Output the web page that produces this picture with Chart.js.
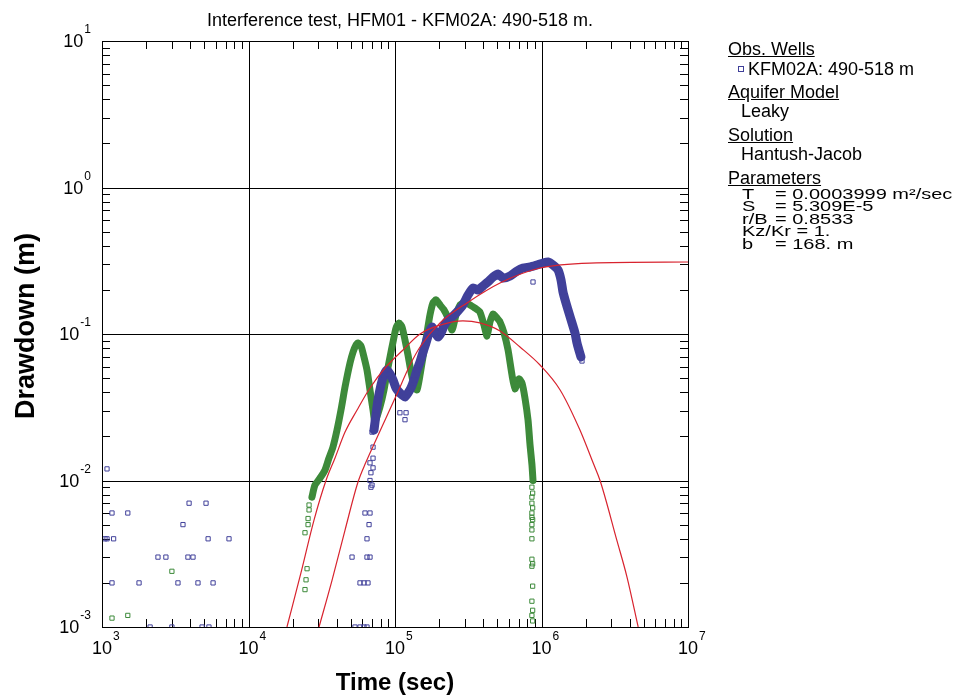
<!DOCTYPE html>
<html>
<head>
<meta charset="utf-8">
<script src="https://cdn.jsdelivr.net/npm/chart.js@4.4.1/dist/chart.umd.min.js"></script>
<style>
  body { margin: 0; background: #fff; }
  #wrap { position: relative; width: 957px; height: 698px; }
  #legend { position: absolute; left: 0; top: 0; font-family: "Liberation Sans", Arial, sans-serif; font-size: 18px; color: #000; }
  #legend div { position: absolute; white-space: nowrap; line-height: 18px; }
  #legend .h { text-decoration: underline; }
  #legend .mk { width: 4px; height: 4px; border: 1px solid #3f3f99; }
  #legend .p { font-size: 20px; line-height: 20px; transform: scaleY(0.75); transform-origin: 0 17px; }
</style>
</head>
<body>
<div id="wrap">
  <canvas id="chart"></canvas>
  <div id="legend">
    <div class="h" style="left:728px; top:40px">Obs. Wells</div>
    <div class="mk" style="left:738px; top:66px"></div>
    <div style="left:748px; top:60px">KFM02A: 490-518 m</div>
    <div class="h" style="left:728px; top:83px">Aquifer Model</div>
    <div style="left:741px; top:102px">Leaky</div>
    <div class="h" style="left:728px; top:126px">Solution</div>
    <div style="left:741px; top:145px">Hantush-Jacob</div>
    <div class="h" style="left:728px; top:169px">Parameters</div>
    <div class="p" style="left:742px; top:182px">T</div>
    <div class="p" style="left:775px; top:182px">= 0.0003999 m²/sec</div>
    <div class="p" style="left:742px; top:194px">S</div>
    <div class="p" style="left:775px; top:194px">= 5.309E-5</div>
    <div class="p" style="left:742px; top:207px">r/B</div>
    <div class="p" style="left:775px; top:207px">= 0.8533</div>
    <div class="p" style="left:742px; top:219px">Kz/Kr = 1.</div>
    <div class="p" style="left:742px; top:232px">b</div>
    <div class="p" style="left:775px; top:232px">= 168. m</div>
  </div>
</div>
<script>
// axis decades and their exponent labels
const timeDecades = [1e3, 1e4, 1e5, 1e6, 1e7];
const timeExp = ['3', '4', '5', '6', '7'];
const drawdownDecades = [1e-3, 1e-2, 1e-1, 1e0, 1e1];
const drawdownExp = ['-3', '-2', '-1', '0', '1'];

// [time (sec), drawdown (m)]
const fitRising = [[1.83e4, 0.001], [2.28e4, 0.00234], [2.80e4, 0.00537], [3.38e4, 0.0100], [3.89e4, 0.0142],
  [4.56e4, 0.0214], [5.51e4, 0.0303], [6.75e4, 0.0428], [8.55e4, 0.0586], [1.134e5, 0.0778], [1.482e5, 0.100],
  [2.028e5, 0.115], [2.91e5, 0.123], [3.8e5, 0.119], [5.21e5, 0.1048], [7.13e5, 0.0815], [9.77e5, 0.0614],
  [1.34e6, 0.0415], [1.83e6, 0.0221], [2.25e6, 0.0132], [2.51e6, 0.0100], [3.27e6, 0.0039], [3.83e6, 0.0022],
  [4.57e6, 0.001]];

const fitKfm = [[3.03e4, 0.001], [3.72e4, 0.00209], [4.56e4, 0.00459], [5.59e4, 0.00977], [6.34e4, 0.01337],
  [7.41e4, 0.0189], [8.68e4, 0.0267], [1.016e5, 0.0377], [1.266e5, 0.0614], [1.482e5, 0.0815], [2.028e5, 0.119],
  [3.1e5, 0.163], [5.21e5, 0.223], [9.77e5, 0.282], [2.14e6, 0.305], [1e7, 0.31]];

const kfmBand = [[7.19e4, 0.0221], [7.41e4, 0.028], [7.65e4, 0.0354], [8.02e4, 0.0449], [8.41e4, 0.0525],
  [8.81e4, 0.0568], [9.25e4, 0.0533], [9.69e4, 0.0486], [1.016e5, 0.0428], [1.065e5, 0.0402], [1.116e5, 0.0384],
  [1.17e5, 0.0372], [1.227e5, 0.0396], [1.286e5, 0.0428], [1.348e5, 0.0486], [1.413e5, 0.0568], [1.482e5, 0.0644],
  [1.553e5, 0.0753], [1.628e5, 0.0868], [1.706e5, 0.1016], [1.789e5, 0.1116], [1.875e5, 0.1032], [1.966e5, 0.0955],
  [2.06e5, 0.1016], [2.159e5, 0.1134], [2.30e5, 0.1246], [2.49e5, 0.1327], [2.69e5, 0.1435], [2.91e5, 0.158],
  [3.15e5, 0.1845], [3.41e5, 0.206], [3.69e5, 0.1995], [3.99e5, 0.213], [4.31e5, 0.2265], [4.67e5, 0.245],
  [5.05e5, 0.257], [5.46e5, 0.241], [6.10e5, 0.249], [6.80e5, 0.269], [7.48e5, 0.282], [8.35e5, 0.2867],
  [9.31e5, 0.296], [1.024e6, 0.305], [1.108e6, 0.310], [1.198e6, 0.296], [1.296e6, 0.2735], [1.359e6, 0.234],
  [1.402e6, 0.1935], [1.469e6, 0.1628], [1.54e6, 0.139], [1.615e6, 0.119], [1.693e6, 0.1016], [1.747e6, 0.0868],
  [1.80e6, 0.0778], [1.86e6, 0.0697]];

const kfmScatter = [[1082, 0.012], [1170, 0.006], [1500, 0.006], [1048, 0.004], [1082, 0.004], [1200, 0.004],
  [1170, 0.002], [1790, 0.002], [2410, 0.003], [2730, 0.003], [3570, 0.005], [3930, 0.007], [5130, 0.007],
  [3860, 0.003], [4180, 0.003], [3300, 0.002], [4520, 0.002], [5300, 0.004], [5730, 0.002], [7360, 0.004],
  [2130, 0.001], [3000, 0.001], [4820, 0.001], [5370, 0.001],
  [6.97e4, 0.0214], [7.08e4, 0.0169], [7.08e4, 0.0142], [6.75e4, 0.0132], [7.08e4, 0.0122], [6.85e4, 0.0113],
  [6.97e4, 0.0093], [6.75e4, 0.010], [6.85e4, 0.009], [6.24e4, 0.006], [6.75e4, 0.006], [6.65e4, 0.005],
  [6.44e4, 0.004], [5.09e4, 0.003], [6.44e4, 0.003], [6.75e4, 0.003], [5.77e4, 0.002], [6.14e4, 0.002],
  [6.54e4, 0.002], [5.33e4, 0.001], [5.77e4, 0.001], [6.14e4, 0.001], [6.44e4, 0.001],
  [1.08e5, 0.029], [1.17e5, 0.026], [1.19e5, 0.029], [8.75e5, 0.2265], [1.89e6, 0.0654]];

const otherBand = [[2.71e4, 0.0077], [2.84e4, 0.0093], [3.08e4, 0.0104], [3.33e4, 0.0118], [3.54e4, 0.0142],
  [3.77e4, 0.0169], [4.02e4, 0.0221], [4.28e4, 0.0303], [4.56e4, 0.0435], [4.93e4, 0.0634], [5.17e4, 0.0753],
  [5.42e4, 0.0841], [5.59e4, 0.0868], [5.86e4, 0.0828], [6.05e4, 0.0741], [6.44e4, 0.0568], [6.75e4, 0.0415],
  [7.08e4, 0.0303], [7.30e4, 0.0251], [7.90e4, 0.0318], [8.41e4, 0.0415], [8.81e4, 0.0542], [9.25e4, 0.0697],
  [9.69e4, 0.0881], [1.016e5, 0.110], [1.065e5, 0.119], [1.116e5, 0.1116], [1.17e5, 0.091], [1.227e5, 0.0719],
  [1.286e5, 0.0551], [1.348e5, 0.0449], [1.413e5, 0.0415], [1.482e5, 0.0525], [1.553e5, 0.0697], [1.653e5, 0.1016],
  [1.733e5, 0.135], [1.817e5, 0.163], [1.905e5, 0.171], [2.028e5, 0.158], [2.159e5, 0.146], [2.30e5, 0.1286],
  [2.45e5, 0.1065], [2.61e5, 0.135], [2.78e5, 0.158], [3.0e5, 0.165], [3.25e5, 0.158], [3.52e5, 0.150],
  [3.80e5, 0.141], [4.05e5, 0.115], [4.25e5, 0.0969], [4.45e5, 0.121], [4.67e5, 0.137], [4.97e5, 0.1286],
  [5.21e5, 0.121], [5.55e5, 0.1016], [5.91e5, 0.0778], [6.29e5, 0.0525], [6.59e5, 0.0422], [7.02e5, 0.0493],
  [7.36e5, 0.0463], [7.71e5, 0.0366], [8.09e5, 0.0259], [8.35e5, 0.0175], [8.61e5, 0.0128], [8.75e5, 0.0100]];

const otherScatter = [[2.43e4, 0.0044], [2.55e4, 0.0050], [2.55e4, 0.0055], [2.59e4, 0.0063], [2.59e4, 0.0068],
  [2.51e4, 0.0025], [2.47e4, 0.0021], [2.43e4, 0.0018], [1170, 0.00115], [1500, 0.0012], [3000, 0.0024],
  [8.6e5, 0.009], [8.7e5, 0.0082], [8.6e5, 0.0077], [8.6e5, 0.007], [8.7e5, 0.0065], [8.6e5, 0.006],
  [8.6e5, 0.0056], [8.7e5, 0.0054], [8.6e5, 0.005], [8.6e5, 0.0046], [8.6e5, 0.004], [8.6e5, 0.0029],
  [8.7e5, 0.0027], [8.6e5, 0.0026], [8.7e5, 0.0019], [8.6e5, 0.0015], [8.7e5, 0.0013], [8.6e5, 0.0012],
  [8.7e5, 0.0011]];

const RED = '#d8232e';
const BLUE = '#40409a';
const GREEN = '#3d8a3a';
const FONT = '"Liberation Sans", Arial, sans-serif';

function pts(arr) {
  return arr.map(p => ({ x: p[0], y: p[1] }));
}

const frame = {
  id: 'frame',
  beforeDatasetsDraw(chart) {
    const { ctx, chartArea: a, scales: { x, y } } = chart;
    ctx.save();
    ctx.strokeStyle = '#000';
    ctx.lineWidth = 1;
    ctx.beginPath();
    timeDecades.slice(1, -1).forEach(v => {
      const p = Math.round(x.getPixelForValue(v)) + 0.5;
      ctx.moveTo(p, a.top); ctx.lineTo(p, a.bottom);
    });
    drawdownDecades.slice(1, -1).forEach(v => {
      const p = Math.round(y.getPixelForValue(v)) + 0.5;
      ctx.moveTo(a.left, p); ctx.lineTo(a.right, p);
    });
    // minor ticks, inward on all four sides
    for (let i = 0; i < timeDecades.length - 1; i++) {
      for (let m = 2; m <= 9; m++) {
        const p = Math.round(x.getPixelForValue(timeDecades[i] * m)) + 0.5;
        ctx.moveTo(p, a.top); ctx.lineTo(p, a.top + 8);
        ctx.moveTo(p, a.bottom); ctx.lineTo(p, a.bottom - 8);
      }
    }
    for (let i = 0; i < drawdownDecades.length - 1; i++) {
      for (let m = 2; m <= 9; m++) {
        const p = Math.round(y.getPixelForValue(drawdownDecades[i] * m)) + 0.5;
        ctx.moveTo(a.left, p); ctx.lineTo(a.left + 8, p);
        ctx.moveTo(a.right, p); ctx.lineTo(a.right - 8, p);
      }
    }
    ctx.stroke();
    ctx.restore();
  },
  afterDraw(chart) {
    const { ctx, chartArea: a, scales: { x, y } } = chart;
    ctx.save();
    ctx.strokeStyle = '#000';
    ctx.lineWidth = 1;
    ctx.strokeRect(Math.round(a.left) + 0.5, Math.round(a.top) + 0.5, Math.round(a.right - a.left), Math.round(a.bottom - a.top));
    ctx.fillStyle = '#000';
    ctx.textBaseline = 'alphabetic';

    // x tick labels
    timeDecades.forEach((v, i) => {
      const p = x.getPixelForValue(v);
      ctx.font = '18px ' + FONT;
      const w = ctx.measureText('10').width;
      ctx.fillText('10', p - w / 2, 654);
      ctx.font = '12px ' + FONT;
      ctx.fillText(timeExp[i], p + w / 2 + 1, 640);
    });
    // y tick labels
    drawdownDecades.forEach((v, i) => {
      const p = y.getPixelForValue(v);
      ctx.font = '12px ' + FONT;
      const we = ctx.measureText(drawdownExp[i]).width;
      ctx.fillText(drawdownExp[i], 91 - we, p - 8);
      ctx.font = '18px ' + FONT;
      const w = ctx.measureText('10').width;
      ctx.fillText('10', 91 - we - 1 - w, p + 6);
    });

    // title
    ctx.font = '18px ' + FONT;
    ctx.textAlign = 'center';
    ctx.fillText('Interference test, HFM01 - KFM02A: 490-518 m.', 400, 26);
    // axis titles
    ctx.font = 'bold 24px ' + FONT;
    ctx.fillText('Time (sec)', (a.left + a.right) / 2, 690);
    ctx.font = 'bold 27px ' + FONT;
    ctx.translate(34, 326);
    ctx.rotate(-Math.PI / 2);
    ctx.fillText('Drawdown (m)', 0, 0);
    ctx.restore();
  }
};

const markerStyle = color => ({
  pointStyle: 'rect',
  pointRadius: 3,
  pointBorderWidth: 1,
  pointBorderColor: color,
  pointBackgroundColor: 'rgba(0,0,0,0)',
  pointHoverRadius: 3
});

new Chart(document.getElementById('chart'), {
  type: 'scatter',
  data: {
    datasets: [
      { data: pts(fitRising), showLine: true, borderColor: RED, borderWidth: 1.2, pointRadius: 0, cubicInterpolationMode: 'monotone' },
      { data: pts(fitKfm), showLine: true, borderColor: RED, borderWidth: 1.2, pointRadius: 0, cubicInterpolationMode: 'monotone' },
      Object.assign({ data: pts(kfmBand), showLine: true, borderColor: BLUE, borderWidth: 9, borderJoinStyle: 'round', borderCapStyle: 'round', tension: 0.2 }, markerStyle(BLUE)),
      Object.assign({ data: pts(kfmScatter), showLine: false }, markerStyle(BLUE)),
      Object.assign({ data: pts(otherBand), showLine: true, borderColor: GREEN, borderWidth: 7, borderJoinStyle: 'round', borderCapStyle: 'round', tension: 0.2 }, markerStyle(GREEN)),
      Object.assign({ data: pts(otherScatter), showLine: false }, markerStyle(GREEN))
    ]
  },
  options: {
    responsive: true,
    maintainAspectRatio: false,
    animation: false,
    layout: { padding: { top: 41, right: 269, left: 0, bottom: 0 } },
    plugins: {
      legend: { display: false },
      tooltip: { enabled: false },
      title: { display: false }
    },
    scales: {
      x: {
        type: 'logarithmic', min: 1e3, max: 1e7,
        grid: { display: false }, border: { display: false }, ticks: { display: false },
        afterFit(s) { s.height = 71; }
      },
      y: {
        type: 'logarithmic', min: 1e-3, max: 1e1,
        grid: { display: false }, border: { display: false }, ticks: { display: false },
        afterFit(s) { s.width = 102; }
      }
    }
  },
  plugins: [frame]
});
</script>
</body>
</html>
